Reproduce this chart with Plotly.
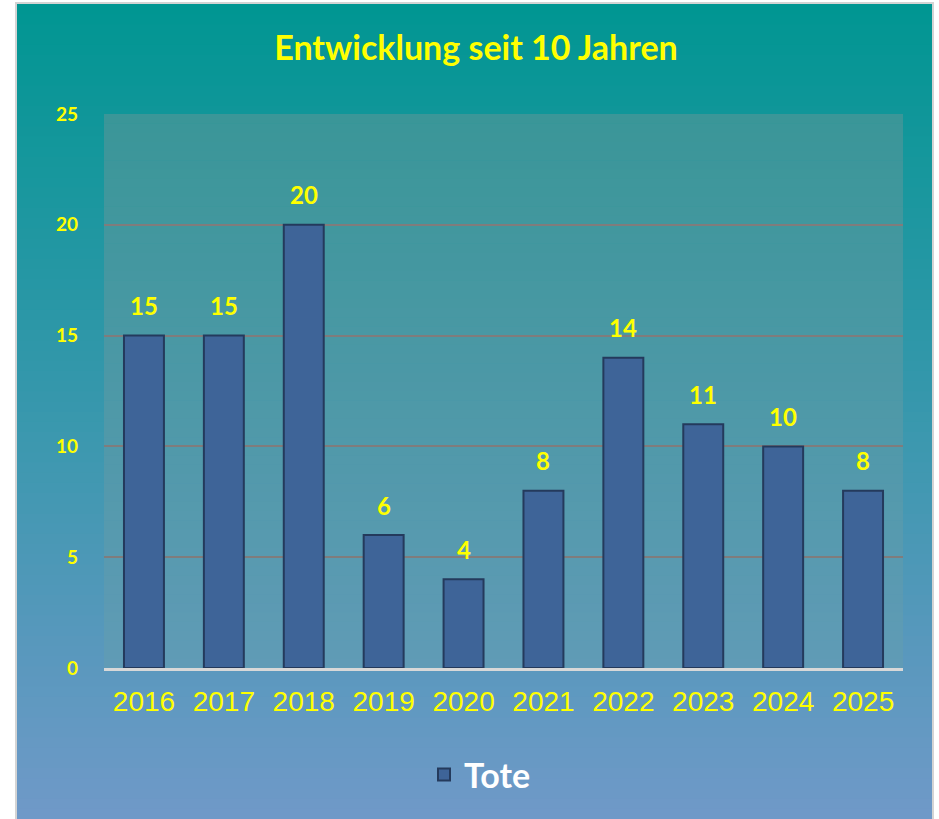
import plotly.graph_objects as go

years = ["2016", "2017", "2018", "2019", "2020", "2021", "2022", "2023", "2024", "2025"]
tote = [15, 15, 20, 6, 4, 8, 14, 11, 10, 8]
y_ticks = [0, 5, 10, 15, 20, 25]
title_text = "Entwicklung seit 10 Jahren"
series_name = "Tote"

W, H = 939, 819
L, R, T, B = 104, 36, 114, 151
pw, ph = W - L - R, H - T - B

def px_x(p):
    return (p - L) / pw

def px_y(p):
    return (H - B - p) / ph

def lerp(c0, c1, t):
    return tuple(round(a + (b - a) * t) for a, b in zip(c0, c1))

shapes = []
# outer gradient box
top_c, bot_c = (0, 150, 146), (112, 153, 200)
y_top, y_bot = 4, 819
N = 80
for i in range(N):
    a = y_top + (y_bot - y_top) * i / N
    b = y_top + (y_bot - y_top) * (i + 1) / N + 1
    c = lerp(top_c, bot_c, (i + 0.5) / N)
    shapes.append(dict(type="rect", xref="paper", yref="paper", layer="below",
                       x0=px_x(17), x1=px_x(932), y0=px_y(b), y1=px_y(a),
                       fillcolor="rgb(%d,%d,%d)" % c, line=dict(width=0)))
# plot area gradient
ptop, pbot = (58, 150, 152), (96, 155, 182)
N2 = 60
for i in range(N2):
    a = T + ph * i / N2
    b = T + ph * (i + 1) / N2 + 0.5
    c = lerp(ptop, pbot, (i + 0.5) / N2)
    shapes.append(dict(type="rect", xref="paper", yref="paper", layer="below",
                       x0=0, x1=1, y0=px_y(min(b, H - B)), y1=px_y(a),
                       fillcolor="rgb(%d,%d,%d)" % c, line=dict(width=0)))
# border
shapes.append(dict(type="rect", xref="paper", yref="paper", layer="above",
                   x0=px_x(16), x1=px_x(933), y0=px_y(822), y1=px_y(3),
                   fillcolor="rgba(0,0,0,0)", line=dict(color="#d4d4d4", width=2)))

fig = go.Figure()
fig.add_trace(go.Bar(
    x=years, y=tote, name=series_name, width=0.5,
    marker=dict(color="rgb(62,100,152)", line=dict(color="rgb(36,58,92)", width=2)),
    showlegend=True,
))

annotations = []
for i, v in enumerate(tote):
    annotations.append(dict(x=i, y=v, xref="x", yref="y", text="<b>%d</b>" % v, showarrow=False,
                            yanchor="middle", yshift=30,
                            font=dict(family="Lato, sans-serif", size=24, color="#ffff00")))

fig.update_layout(
    width=W, height=H,
    margin=dict(l=L, r=R, t=T, b=B, pad=0),
    paper_bgcolor="white", plot_bgcolor="rgba(0,0,0,0)",
    shapes=shapes, annotations=annotations,
    title=dict(text="<b>" + title_text + "</b>", x=476 / W, xanchor="center",
               y=1 - 48 / H, yanchor="middle",
               font=dict(family="Lato, sans-serif", size=34, color="#ffff00")),
    xaxis=dict(type="category", range=[-0.5, len(years) - 0.5], showgrid=False, showline=True,
               linecolor="#d8d8d8", linewidth=3,
               ticks="", tickfont=dict(family="Liberation Sans, Arial, sans-serif", size=28, color="#ffff00"),
               ticklabelstandoff=6),
    yaxis=dict(range=[0, 25], tickvals=y_ticks, showgrid=True, gridcolor="rgb(128,124,124)", gridwidth=2,
               zeroline=False, showline=False, ticks="",
               tickfont=dict(family="Lato, sans-serif", size=19, color="#ffff00", weight="bold"),
               ticklabelstandoff=25),
    legend=dict(orientation="h", x=px_x(480), xanchor="center", y=px_y(775), yanchor="middle",
                bgcolor="rgba(0,0,0,0)",
                font=dict(family="Lato, sans-serif", size=34, color="white", weight="bold")),
    bargap=0.5,
)

fig.write_html("out.html", post_script="document.body.style.margin='0px';",
               config={"displayModeBar": False})
